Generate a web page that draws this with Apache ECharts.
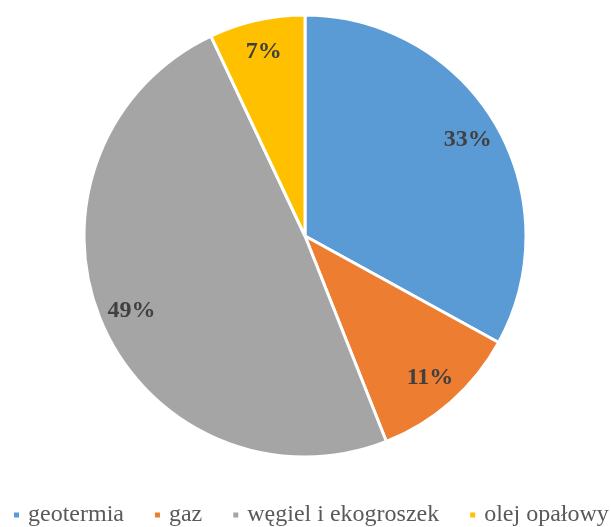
<!DOCTYPE html>
<html>
<head>
<meta charset="utf-8">
<script src="https://cdn.jsdelivr.net/npm/echarts@6/dist/echarts.min.js"></script>
<style>
  html, body { margin: 0; padding: 0; background: #fff; }
  #chart { width: 611px; height: 527px; }
</style>
</head>
<body>
<div id="chart"></div>
<script>
  const categories = ['geotermia', 'gaz', 'węgiel i ekogroszek', 'olej opałowy']
  const shares = [33, 11, 49, 7]
  const colors = ['#5B9BD5', '#ED7D31', '#A5A5A5', '#FFC000']

  const pieData = categories.map((name, i) => ({ name: name, value: shares[i] }))
  const serif = "'Liberation Serif', 'Times New Roman', Times, serif"

  const chart = echarts.init(document.getElementById('chart'))
  chart.setOption({
    animation: false,
    color: colors,
    legend: {
      top: 503,
      left: 12,
      width: 640,
      padding: 0,
      icon: 'rect',
      itemWidth: 7,
      itemHeight: 7,
      itemGap: 29,
      textStyle: {
        fontFamily: serif,
        fontSize: 24,
        color: '#595959',
        padding: [0, 0, 0, 3]
      },
      data: categories
    },
    series: [{
      type: 'pie',
      center: [305, 236],
      radius: [0, 221],
      startAngle: 90,
      clockwise: true,
      label: { show: false },
      labelLine: { show: false },
      itemStyle: { borderColor: '#fff', borderWidth: 3 },
      emphasis: { disabled: true },
      data: pieData
    }, {
      // invisible ring only used to place the % labels further out
      type: 'pie',
      center: [305, 236],
      radius: [162, 210],
      startAngle: 90,
      clockwise: true,
      silent: true,
      legendHoverLink: false,
      itemStyle: { color: 'transparent' },
      label: {
        show: true,
        position: 'inside',
        formatter: '{d}%',
        fontFamily: serif,
        fontWeight: 'bold',
        fontSize: 24,
        color: '#404040'
      },
      labelLine: { show: false },
      emphasis: { disabled: true },
      data: pieData
    }]
  })
</script>
</body>
</html>
